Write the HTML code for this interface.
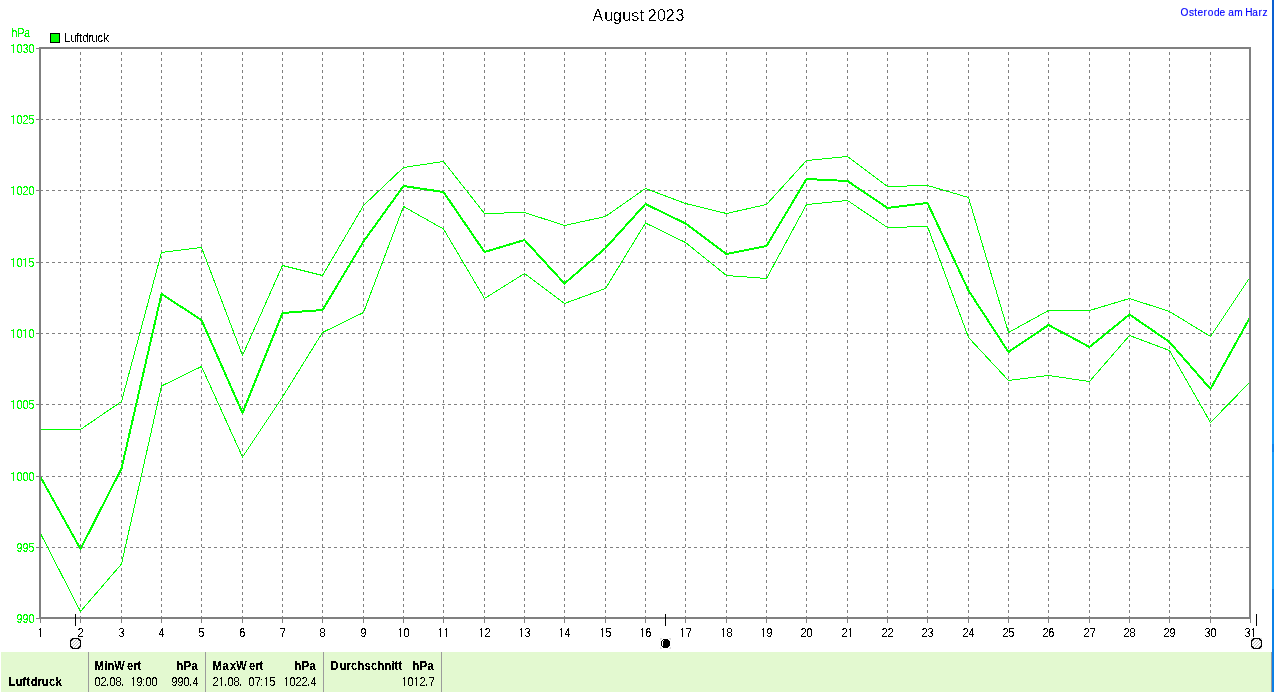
<!DOCTYPE html>
<html lang="de">
<head>
<meta charset="utf-8">
<title>Luftdruck August 2023 - Osterode am Harz</title>
<style>
html,body{margin:0;padding:0;background:#fff;}
body{width:1274px;height:692px;overflow:hidden;position:relative;font-family:"Liberation Sans",sans-serif;}
#chart{position:absolute;left:0;top:0;width:1274px;height:692px;display:block;}
#chart text{font-family:"Liberation Sans",sans-serif;font-size:13px;fill:#000;stroke:#000;stroke-width:0.2px;}
#chart .b{font-weight:bold;stroke-width:0.3px;}
#chart .g text{fill:#00ff00;stroke:#00ff00;}
#chart .site text{fill:#0000ff;stroke:#0000ff;stroke-width:0.15px;}
#chart .title text{stroke-width:0;}
</style>
</head>
<body>
<svg id="chart" width="1274" height="692" viewBox="0 0 1274 692">
<defs>
<filter id="crisp" x="0" y="0" width="1274" height="692" filterUnits="userSpaceOnUse" color-interpolation-filters="sRGB"><feComponentTransfer><feFuncA type="discrete" tableValues="0 0 0 1 1"/></feComponentTransfer></filter>
<filter id="crisp2" x="0" y="0" width="1274" height="692" filterUnits="userSpaceOnUse" color-interpolation-filters="sRGB"><feComponentTransfer><feFuncA type="discrete" tableValues="0 1"/></feComponentTransfer></filter>
<linearGradient id="bl" gradientUnits="userSpaceOnUse" x1="0" y1="0" x2="0" y2="589"><stop offset="0" stop-color="#0a5fcf"/><stop offset="0.2" stop-color="#0a69e1"/><stop offset="0.42" stop-color="#0a84f5"/><stop offset="0.68" stop-color="#199bfa"/><stop offset="1" stop-color="#1aa0fa"/></linearGradient>
</defs>

<g id="table-bg" shape-rendering="crispEdges">
<rect x="1" y="652" width="1271" height="40" fill="#e3f9d0"/>
<rect x="88" y="652" width="1" height="40" fill="#9c9c9c"/>
<rect x="205" y="652" width="1" height="40" fill="#9c9c9c"/>
<rect x="323" y="652" width="1" height="40" fill="#9c9c9c"/>
<rect x="441" y="652" width="1" height="40" fill="#9c9c9c"/>
<rect x="1271" y="652" width="1" height="40" fill="#9c9c9c"/>
</g>
<g id="edge" shape-rendering="crispEdges">
<rect x="1272" y="0" width="2" height="589" fill="url(#bl)"/>
<rect x="1272" y="589" width="2" height="103" fill="#0b80e6"/>
<rect x="1272" y="444" width="2" height="8" fill="#0e84ec"/>
</g>
<g id="grid" stroke="#808080" stroke-width="1" shape-rendering="crispEdges" fill="none" stroke-dasharray="3 3">
<line x1="80.5" y1="49" x2="80.5" y2="617" stroke-dashoffset="3"/>
<line x1="121.5" y1="49" x2="121.5" y2="617" stroke-dashoffset="3"/>
<line x1="161.5" y1="49" x2="161.5" y2="617" stroke-dashoffset="3"/>
<line x1="201.5" y1="49" x2="201.5" y2="617" stroke-dashoffset="3"/>
<line x1="242.5" y1="49" x2="242.5" y2="617" stroke-dashoffset="3"/>
<line x1="282.5" y1="49" x2="282.5" y2="617" stroke-dashoffset="3"/>
<line x1="322.5" y1="49" x2="322.5" y2="617" stroke-dashoffset="3"/>
<line x1="363.5" y1="49" x2="363.5" y2="617" stroke-dashoffset="3"/>
<line x1="403.5" y1="49" x2="403.5" y2="617" stroke-dashoffset="3"/>
<line x1="443.5" y1="49" x2="443.5" y2="617" stroke-dashoffset="3"/>
<line x1="484.5" y1="49" x2="484.5" y2="617" stroke-dashoffset="3"/>
<line x1="524.5" y1="49" x2="524.5" y2="617" stroke-dashoffset="3"/>
<line x1="564.5" y1="49" x2="564.5" y2="617" stroke-dashoffset="3"/>
<line x1="605.5" y1="49" x2="605.5" y2="617" stroke-dashoffset="3"/>
<line x1="645.5" y1="49" x2="645.5" y2="617" stroke-dashoffset="3"/>
<line x1="685.5" y1="49" x2="685.5" y2="617" stroke-dashoffset="3"/>
<line x1="726.5" y1="49" x2="726.5" y2="617" stroke-dashoffset="3"/>
<line x1="766.5" y1="49" x2="766.5" y2="617" stroke-dashoffset="3"/>
<line x1="806.5" y1="49" x2="806.5" y2="617" stroke-dashoffset="3"/>
<line x1="847.5" y1="49" x2="847.5" y2="617" stroke-dashoffset="3"/>
<line x1="887.5" y1="49" x2="887.5" y2="617" stroke-dashoffset="3"/>
<line x1="927.5" y1="49" x2="927.5" y2="617" stroke-dashoffset="3"/>
<line x1="968.5" y1="49" x2="968.5" y2="617" stroke-dashoffset="3"/>
<line x1="1008.5" y1="49" x2="1008.5" y2="617" stroke-dashoffset="3"/>
<line x1="1048.5" y1="49" x2="1048.5" y2="617" stroke-dashoffset="3"/>
<line x1="1089.5" y1="49" x2="1089.5" y2="617" stroke-dashoffset="3"/>
<line x1="1129.5" y1="49" x2="1129.5" y2="617" stroke-dashoffset="3"/>
<line x1="1169.5" y1="49" x2="1169.5" y2="617" stroke-dashoffset="3"/>
<line x1="1210.5" y1="49" x2="1210.5" y2="617" stroke-dashoffset="3"/>
<line x1="41" y1="547.5" x2="1249" y2="547.5" stroke-dashoffset="1"/>
<line x1="41" y1="476.5" x2="1249" y2="476.5" stroke-dashoffset="1"/>
<line x1="41" y1="404.5" x2="1249" y2="404.5" stroke-dashoffset="1"/>
<line x1="41" y1="333.5" x2="1249" y2="333.5" stroke-dashoffset="1"/>
<line x1="41" y1="262.5" x2="1249" y2="262.5" stroke-dashoffset="1"/>
<line x1="41" y1="190.5" x2="1249" y2="190.5" stroke-dashoffset="1"/>
<line x1="41" y1="119.5" x2="1249" y2="119.5" stroke-dashoffset="1"/>
</g>
<g id="series" stroke="#00ff00" fill="none" shape-rendering="crispEdges" stroke-linejoin="round" stroke-linecap="butt">
<polyline stroke-width="1" points="40.5,429.5 80.5,429.5 121.5,401.5 161.5,252.5 201.5,247.5 242.5,355.5 282.5,265.5 322.5,275.5 363.5,205.5 403.5,167.5 443.5,161.5 484.5,213.5 524.5,212.5 564.5,225.5 605.5,216.5 645.5,188.5 685.5,203.5 726.5,213.5 766.5,204.5 806.5,160.5 847.5,156.5 887.5,186.5 927.5,185.5 968.5,197.5 1008.5,332.5 1048.5,310.5 1089.5,310.5 1129.5,298.5 1169.5,311.5 1210.5,336.5 1250.5,276.5"/>
<polyline stroke-width="1" points="40.5,533.5 80.5,611.5 121.5,564.0 161.5,386.0 201.5,366.5 242.5,457.0 282.5,397.0 322.5,332.5 363.5,312.5 403.5,206.5 443.5,229.0 484.5,298.5 524.5,273.5 564.5,303.5 605.5,288.5 645.5,223.0 685.5,242.5 726.5,275.5 766.5,278.5 806.5,204.5 847.5,200.5 887.5,227.5 927.5,226.5 968.5,337.5 1008.5,380.5 1048.5,375.5 1089.5,381.5 1129.5,335.5 1169.5,350.5 1210.5,422.5 1250.5,381.5"/>
<polyline stroke-width="2" points="40.5,477.0 80.5,549.0 121.5,468.5 161.5,294.0 201.5,320.0 242.5,413.0 282.5,313.0 322.5,310.0 363.5,241.5 403.5,186.0 443.5,192.0 484.5,252.0 524.5,240.0 564.5,283.5 605.5,248.0 645.5,204.0 685.5,223.5 726.5,254.0 766.5,246.0 806.5,179.0 847.5,181.0 887.5,208.0 927.5,203.0 968.5,290.5 1008.5,352.0 1048.5,325.0 1089.5,347.0 1129.5,314.5 1169.5,342.0 1210.5,389.0 1250.5,316.5"/>
</g>
<g id="frame" fill="#808080" shape-rendering="crispEdges">
<rect x="39" y="47" width="1212" height="2"/>
<rect x="39" y="617" width="1212" height="2"/>
<rect x="39" y="47" width="2" height="572"/>
<rect x="1249" y="47" width="2" height="572"/>
<rect x="40" y="619" width="1" height="4"/>
<rect x="80" y="619" width="1" height="4"/>
<rect x="121" y="619" width="1" height="4"/>
<rect x="161" y="619" width="1" height="4"/>
<rect x="201" y="619" width="1" height="4"/>
<rect x="242" y="619" width="1" height="4"/>
<rect x="282" y="619" width="1" height="4"/>
<rect x="322" y="619" width="1" height="4"/>
<rect x="363" y="619" width="1" height="4"/>
<rect x="403" y="619" width="1" height="4"/>
<rect x="443" y="619" width="1" height="4"/>
<rect x="484" y="619" width="1" height="4"/>
<rect x="524" y="619" width="1" height="4"/>
<rect x="564" y="619" width="1" height="4"/>
<rect x="605" y="619" width="1" height="4"/>
<rect x="645" y="619" width="1" height="4"/>
<rect x="685" y="619" width="1" height="4"/>
<rect x="726" y="619" width="1" height="4"/>
<rect x="766" y="619" width="1" height="4"/>
<rect x="806" y="619" width="1" height="4"/>
<rect x="847" y="619" width="1" height="4"/>
<rect x="887" y="619" width="1" height="4"/>
<rect x="927" y="619" width="1" height="4"/>
<rect x="968" y="619" width="1" height="4"/>
<rect x="1008" y="619" width="1" height="4"/>
<rect x="1048" y="619" width="1" height="4"/>
<rect x="1089" y="619" width="1" height="4"/>
<rect x="1129" y="619" width="1" height="4"/>
<rect x="1169" y="619" width="1" height="4"/>
<rect x="1210" y="619" width="1" height="4"/>
<rect x="1250" y="619" width="1" height="4"/>
<rect x="36" y="618" width="3" height="1"/>
<rect x="36" y="547" width="3" height="1"/>
<rect x="36" y="476" width="3" height="1"/>
<rect x="36" y="404" width="3" height="1"/>
<rect x="36" y="333" width="3" height="1"/>
<rect x="36" y="262" width="3" height="1"/>
<rect x="36" y="190" width="3" height="1"/>
<rect x="36" y="119" width="3" height="1"/>
<rect x="36" y="48" width="3" height="1"/>
</g>
<rect x="50.5" y="33.5" width="9" height="9" fill="#00ff00" stroke="#000" stroke-width="1" shape-rendering="crispEdges"/>
<g id="moon-ticks" fill="#000" shape-rendering="crispEdges">
<rect x="75" y="614" width="1" height="12"/>
<rect x="665" y="614" width="1" height="12"/>
<rect x="1256" y="614" width="1" height="12"/>
</g>
<g class="moon" transform="translate(70,638)" shape-rendering="crispEdges"><title>Vollmond</title>
<rect x="0" y="0" width="2" height="1" fill="#dcdcdc"/>
<rect x="2" y="0" width="7" height="1" fill="#000"/>
<rect x="9" y="0" width="2" height="1" fill="#dcdcdc"/>
<rect x="0" y="1" width="1" height="1" fill="#dcdcdc"/>
<rect x="1" y="1" width="2" height="1" fill="#000"/>
<rect x="3" y="1" width="1" height="1" fill="#bcbcbc"/>
<rect x="6" y="1" width="1" height="1" fill="#bcbcbc"/>
<rect x="8" y="1" width="2" height="1" fill="#000"/>
<rect x="10" y="1" width="1" height="1" fill="#dcdcdc"/>
<rect x="0" y="2" width="2" height="1" fill="#000"/>
<rect x="2" y="2" width="1" height="1" fill="#bcbcbc"/>
<rect x="5" y="2" width="1" height="1" fill="#bcbcbc"/>
<rect x="8" y="2" width="1" height="1" fill="#bcbcbc"/>
<rect x="9" y="2" width="2" height="1" fill="#000"/>
<rect x="0" y="3" width="1" height="1" fill="#000"/>
<rect x="1" y="3" width="1" height="1" fill="#bcbcbc"/>
<rect x="4" y="3" width="1" height="1" fill="#bcbcbc"/>
<rect x="7" y="3" width="1" height="1" fill="#bcbcbc"/>
<rect x="10" y="3" width="1" height="1" fill="#000"/>
<rect x="0" y="4" width="1" height="1" fill="#000"/>
<rect x="3" y="4" width="1" height="1" fill="#bcbcbc"/>
<rect x="6" y="4" width="1" height="1" fill="#bcbcbc"/>
<rect x="9" y="4" width="1" height="1" fill="#bcbcbc"/>
<rect x="10" y="4" width="1" height="1" fill="#000"/>
<rect x="0" y="5" width="1" height="1" fill="#000"/>
<rect x="2" y="5" width="1" height="1" fill="#bcbcbc"/>
<rect x="5" y="5" width="1" height="1" fill="#bcbcbc"/>
<rect x="8" y="5" width="1" height="1" fill="#bcbcbc"/>
<rect x="10" y="5" width="1" height="1" fill="#000"/>
<rect x="0" y="6" width="1" height="1" fill="#000"/>
<rect x="1" y="6" width="1" height="1" fill="#bcbcbc"/>
<rect x="4" y="6" width="1" height="1" fill="#bcbcbc"/>
<rect x="7" y="6" width="1" height="1" fill="#bcbcbc"/>
<rect x="10" y="6" width="1" height="1" fill="#000"/>
<rect x="0" y="7" width="1" height="1" fill="#000"/>
<rect x="3" y="7" width="1" height="1" fill="#bcbcbc"/>
<rect x="6" y="7" width="1" height="1" fill="#bcbcbc"/>
<rect x="9" y="7" width="1" height="1" fill="#bcbcbc"/>
<rect x="10" y="7" width="1" height="1" fill="#000"/>
<rect x="0" y="8" width="2" height="1" fill="#000"/>
<rect x="2" y="8" width="1" height="1" fill="#bcbcbc"/>
<rect x="5" y="8" width="1" height="1" fill="#bcbcbc"/>
<rect x="8" y="8" width="1" height="1" fill="#bcbcbc"/>
<rect x="9" y="8" width="2" height="1" fill="#000"/>
<rect x="0" y="9" width="1" height="1" fill="#dcdcdc"/>
<rect x="1" y="9" width="2" height="1" fill="#000"/>
<rect x="4" y="9" width="1" height="1" fill="#bcbcbc"/>
<rect x="7" y="9" width="1" height="1" fill="#bcbcbc"/>
<rect x="8" y="9" width="2" height="1" fill="#000"/>
<rect x="10" y="9" width="1" height="1" fill="#dcdcdc"/>
<rect x="0" y="10" width="2" height="1" fill="#dcdcdc"/>
<rect x="2" y="10" width="7" height="1" fill="#000"/>
<rect x="9" y="10" width="2" height="1" fill="#dcdcdc"/>
</g>
<g class="moon" transform="translate(660,638)" shape-rendering="crispEdges"><title>Neumond</title>
<rect x="0" y="0" width="2" height="1" fill="#dcdcdc"/>
<rect x="9" y="0" width="2" height="1" fill="#dcdcdc"/>
<rect x="0" y="1" width="1" height="1" fill="#dcdcdc"/>
<rect x="3" y="1" width="5" height="1" fill="#000"/>
<rect x="10" y="1" width="1" height="1" fill="#dcdcdc"/>
<rect x="2" y="2" width="1" height="1" fill="#000"/>
<rect x="3" y="2" width="1" height="1" fill="#fff"/>
<rect x="4" y="2" width="5" height="1" fill="#000"/>
<rect x="1" y="3" width="1" height="1" fill="#000"/>
<rect x="2" y="3" width="1" height="1" fill="#fff"/>
<rect x="3" y="3" width="7" height="1" fill="#000"/>
<rect x="1" y="4" width="1" height="1" fill="#000"/>
<rect x="2" y="4" width="1" height="1" fill="#fff"/>
<rect x="3" y="4" width="7" height="1" fill="#000"/>
<rect x="1" y="5" width="1" height="1" fill="#000"/>
<rect x="2" y="5" width="1" height="1" fill="#fff"/>
<rect x="3" y="5" width="7" height="1" fill="#000"/>
<rect x="1" y="6" width="1" height="1" fill="#000"/>
<rect x="2" y="6" width="1" height="1" fill="#fff"/>
<rect x="3" y="6" width="7" height="1" fill="#000"/>
<rect x="1" y="7" width="1" height="1" fill="#000"/>
<rect x="2" y="7" width="1" height="1" fill="#fff"/>
<rect x="3" y="7" width="7" height="1" fill="#000"/>
<rect x="2" y="8" width="7" height="1" fill="#000"/>
<rect x="0" y="9" width="1" height="1" fill="#dcdcdc"/>
<rect x="3" y="9" width="5" height="1" fill="#000"/>
<rect x="10" y="9" width="1" height="1" fill="#dcdcdc"/>
<rect x="0" y="10" width="2" height="1" fill="#dcdcdc"/>
<rect x="9" y="10" width="2" height="1" fill="#dcdcdc"/>
</g>
<g class="moon" transform="translate(1251,638)" shape-rendering="crispEdges"><title>Vollmond</title>
<rect x="0" y="0" width="2" height="1" fill="#dcdcdc"/>
<rect x="2" y="0" width="7" height="1" fill="#000"/>
<rect x="9" y="0" width="2" height="1" fill="#dcdcdc"/>
<rect x="0" y="1" width="1" height="1" fill="#dcdcdc"/>
<rect x="1" y="1" width="2" height="1" fill="#000"/>
<rect x="3" y="1" width="1" height="1" fill="#bcbcbc"/>
<rect x="6" y="1" width="1" height="1" fill="#bcbcbc"/>
<rect x="8" y="1" width="2" height="1" fill="#000"/>
<rect x="10" y="1" width="1" height="1" fill="#dcdcdc"/>
<rect x="0" y="2" width="2" height="1" fill="#000"/>
<rect x="2" y="2" width="1" height="1" fill="#bcbcbc"/>
<rect x="5" y="2" width="1" height="1" fill="#bcbcbc"/>
<rect x="8" y="2" width="1" height="1" fill="#bcbcbc"/>
<rect x="9" y="2" width="2" height="1" fill="#000"/>
<rect x="0" y="3" width="1" height="1" fill="#000"/>
<rect x="1" y="3" width="1" height="1" fill="#bcbcbc"/>
<rect x="4" y="3" width="1" height="1" fill="#bcbcbc"/>
<rect x="7" y="3" width="1" height="1" fill="#bcbcbc"/>
<rect x="10" y="3" width="1" height="1" fill="#000"/>
<rect x="0" y="4" width="1" height="1" fill="#000"/>
<rect x="3" y="4" width="1" height="1" fill="#bcbcbc"/>
<rect x="6" y="4" width="1" height="1" fill="#bcbcbc"/>
<rect x="9" y="4" width="1" height="1" fill="#bcbcbc"/>
<rect x="10" y="4" width="1" height="1" fill="#000"/>
<rect x="0" y="5" width="1" height="1" fill="#000"/>
<rect x="2" y="5" width="1" height="1" fill="#bcbcbc"/>
<rect x="5" y="5" width="1" height="1" fill="#bcbcbc"/>
<rect x="8" y="5" width="1" height="1" fill="#bcbcbc"/>
<rect x="10" y="5" width="1" height="1" fill="#000"/>
<rect x="0" y="6" width="1" height="1" fill="#000"/>
<rect x="1" y="6" width="1" height="1" fill="#bcbcbc"/>
<rect x="4" y="6" width="1" height="1" fill="#bcbcbc"/>
<rect x="7" y="6" width="1" height="1" fill="#bcbcbc"/>
<rect x="10" y="6" width="1" height="1" fill="#000"/>
<rect x="0" y="7" width="1" height="1" fill="#000"/>
<rect x="3" y="7" width="1" height="1" fill="#bcbcbc"/>
<rect x="6" y="7" width="1" height="1" fill="#bcbcbc"/>
<rect x="9" y="7" width="1" height="1" fill="#bcbcbc"/>
<rect x="10" y="7" width="1" height="1" fill="#000"/>
<rect x="0" y="8" width="2" height="1" fill="#000"/>
<rect x="2" y="8" width="1" height="1" fill="#bcbcbc"/>
<rect x="5" y="8" width="1" height="1" fill="#bcbcbc"/>
<rect x="8" y="8" width="1" height="1" fill="#bcbcbc"/>
<rect x="9" y="8" width="2" height="1" fill="#000"/>
<rect x="0" y="9" width="1" height="1" fill="#dcdcdc"/>
<rect x="1" y="9" width="2" height="1" fill="#000"/>
<rect x="4" y="9" width="1" height="1" fill="#bcbcbc"/>
<rect x="7" y="9" width="1" height="1" fill="#bcbcbc"/>
<rect x="8" y="9" width="2" height="1" fill="#000"/>
<rect x="10" y="9" width="1" height="1" fill="#dcdcdc"/>
<rect x="0" y="10" width="2" height="1" fill="#dcdcdc"/>
<rect x="2" y="10" width="7" height="1" fill="#000"/>
<rect x="9" y="10" width="2" height="1" fill="#dcdcdc"/>
</g>
<clipPath id="nofoot" clipPathUnits="userSpaceOnUse"><path clip-rule="evenodd" d="M0 0H1274V692H0ZM11 52h2v1h-2zM14 52h2v1h-2zM11 123h2v1h-2zM14 123h2v1h-2zM11 194h2v1h-2zM14 194h2v1h-2zM11 266h2v1h-2zM14 266h2v1h-2zM23 266h2v1h-2zM26 266h2v1h-2zM11 337h2v1h-2zM14 337h2v1h-2zM23 337h2v1h-2zM26 337h2v1h-2zM11 408h2v1h-2zM14 408h2v1h-2zM11 480h2v1h-2zM14 480h2v1h-2zM38 636h2v1h-2zM41 636h2v1h-2zM398 636h2v1h-2zM401 636h2v1h-2zM438 636h2v1h-2zM441 636h2v1h-2zM444 636h2v1h-2zM447 636h2v1h-2zM479 636h2v1h-2zM482 636h2v1h-2zM519 636h2v1h-2zM522 636h2v1h-2zM559 636h2v1h-2zM562 636h2v1h-2zM600 636h2v1h-2zM603 636h2v1h-2zM640 636h2v1h-2zM643 636h2v1h-2zM680 636h2v1h-2zM683 636h2v1h-2zM721 636h2v1h-2zM724 636h2v1h-2zM761 636h2v1h-2zM764 636h2v1h-2zM848 636h2v1h-2zM851 636h2v1h-2zM1251 636h2v1h-2zM1254 636h2v1h-2zM131 685h2v1h-2zM134 685h2v1h-2zM219 685h2v1h-2zM222 685h2v1h-2zM264 685h2v1h-2zM267 685h2v1h-2zM284 685h2v1h-2zM287 685h2v1h-2zM402 685h2v1h-2zM405 685h2v1h-2zM414 685h2v1h-2zM417 685h2v1h-2z"/></clipPath>
<g id="labels" filter="url(#crisp)" clip-path="url(#nofoot)">
<text transform="translate(0,42) scale(0.85,1)" x="75.36 83.01 89.48 93.01 97.13 103.89 107.72 114.78 121.84" y="0" style="font-size:13px" xml:space="preserve">Luftdruck</text>
<g class="g">
<text transform="translate(0,37) scale(0.85,1)" x="13.31 20.36 28.31" y="0" style="font-size:13px" xml:space="preserve">hPa</text>
<text transform="translate(0,53) scale(0.85,1)" x="12.13 19.48 26.54 33.60" y="0" style="font-size:13px" xml:space="preserve">1030</text>
<text transform="translate(0,124) scale(0.85,1)" x="12.13 19.48 26.54 33.31" y="0" style="font-size:13px" xml:space="preserve">1025</text>
<text transform="translate(0,195) scale(0.85,1)" x="12.13 19.48 26.54 33.60" y="0" style="font-size:13px" xml:space="preserve">1020</text>
<text transform="translate(0,267) scale(0.85,1)" x="12.13 19.48 26.25 33.31" y="0" style="font-size:13px" xml:space="preserve">1015</text>
<text transform="translate(0,338) scale(0.85,1)" x="12.13 19.48 26.25 33.60" y="0" style="font-size:13px" xml:space="preserve">1010</text>
<text transform="translate(0,409) scale(0.85,1)" x="12.13 19.48 26.54 33.31" y="0" style="font-size:13px" xml:space="preserve">1005</text>
<text transform="translate(0,481) scale(0.85,1)" x="12.13 19.48 26.54 33.60" y="0" style="font-size:13px" xml:space="preserve">1000</text>
<text transform="translate(0,552) scale(0.85,1)" x="19.48 26.54 33.31" y="0" style="font-size:13px" xml:space="preserve">995</text>
<text transform="translate(0,623) scale(0.85,1)" x="19.48 26.54 33.60" y="0" style="font-size:13px" xml:space="preserve">990</text>
</g>
<g class="x">
<text transform="translate(0,637) scale(0.85,1)" x="43.89" y="0" style="font-size:13px" xml:space="preserve">1</text>
<text transform="translate(0,637) scale(0.85,1)" x="91.25" y="0" style="font-size:13px" xml:space="preserve">2</text>
<text transform="translate(0,637) scale(0.85,1)" x="139.48" y="0" style="font-size:13px" xml:space="preserve">3</text>
<text transform="translate(0,637) scale(0.85,1)" x="186.54" y="0" style="font-size:13px" xml:space="preserve">4</text>
<text transform="translate(0,637) scale(0.85,1)" x="233.31" y="0" style="font-size:13px" xml:space="preserve">5</text>
<text transform="translate(0,637) scale(0.85,1)" x="281.54" y="0" style="font-size:13px" xml:space="preserve">6</text>
<text transform="translate(0,637) scale(0.85,1)" x="329.19" y="0" style="font-size:13px" xml:space="preserve">7</text>
<text transform="translate(0,637) scale(0.85,1)" x="375.95" y="0" style="font-size:13px" xml:space="preserve">8</text>
<text transform="translate(0,637) scale(0.85,1)" x="424.19" y="0" style="font-size:13px" xml:space="preserve">9</text>
<text transform="translate(0,637) scale(0.85,1)" x="467.42 474.78" y="0" style="font-size:13px" xml:space="preserve">10</text>
<text transform="translate(0,637) scale(0.85,1)" x="514.48 521.54" y="0" style="font-size:13px" xml:space="preserve">11</text>
<text transform="translate(0,637) scale(0.85,1)" x="562.72 570.07" y="0" style="font-size:13px" xml:space="preserve">12</text>
<text transform="translate(0,637) scale(0.85,1)" x="609.78 617.13" y="0" style="font-size:13px" xml:space="preserve">13</text>
<text transform="translate(0,637) scale(0.85,1)" x="656.84 664.19" y="0" style="font-size:13px" xml:space="preserve">14</text>
<text transform="translate(0,637) scale(0.85,1)" x="705.07 712.13" y="0" style="font-size:13px" xml:space="preserve">15</text>
<text transform="translate(0,637) scale(0.85,1)" x="752.13 759.19" y="0" style="font-size:13px" xml:space="preserve">16</text>
<text transform="translate(0,637) scale(0.85,1)" x="799.19 806.84" y="0" style="font-size:13px" xml:space="preserve">17</text>
<text transform="translate(0,637) scale(0.85,1)" x="847.42 854.78" y="0" style="font-size:13px" xml:space="preserve">18</text>
<text transform="translate(0,637) scale(0.85,1)" x="894.48 901.84" y="0" style="font-size:13px" xml:space="preserve">19</text>
<text transform="translate(0,637) scale(0.85,1)" x="941.84 948.89" y="0" style="font-size:13px" xml:space="preserve">20</text>
<text transform="translate(0,637) scale(0.85,1)" x="990.07 996.84" y="0" style="font-size:13px" xml:space="preserve">21</text>
<text transform="translate(0,637) scale(0.85,1)" x="1037.13 1044.19" y="0" style="font-size:13px" xml:space="preserve">22</text>
<text transform="translate(0,637) scale(0.85,1)" x="1084.19 1091.25" y="0" style="font-size:13px" xml:space="preserve">23</text>
<text transform="translate(0,637) scale(0.85,1)" x="1132.42 1139.48" y="0" style="font-size:13px" xml:space="preserve">24</text>
<text transform="translate(0,637) scale(0.85,1)" x="1179.48 1186.25" y="0" style="font-size:13px" xml:space="preserve">25</text>
<text transform="translate(0,637) scale(0.85,1)" x="1226.54 1233.31" y="0" style="font-size:13px" xml:space="preserve">26</text>
<text transform="translate(0,637) scale(0.85,1)" x="1274.78 1282.13" y="0" style="font-size:13px" xml:space="preserve">27</text>
<text transform="translate(0,637) scale(0.85,1)" x="1321.84 1328.89" y="0" style="font-size:13px" xml:space="preserve">28</text>
<text transform="translate(0,637) scale(0.85,1)" x="1368.89 1375.95" y="0" style="font-size:13px" xml:space="preserve">29</text>
<text transform="translate(0,637) scale(0.85,1)" x="1417.13 1424.19" y="0" style="font-size:13px" xml:space="preserve">30</text>
<text transform="translate(0,637) scale(0.85,1)" x="1464.19 1470.95" y="0" style="font-size:13px" xml:space="preserve">31</text>
</g>
<g class="tbl">
<text class="b" transform="translate(0,686) scale(0.85,1)" x="10.07 18.60 26.25 30.95 36.25 44.19 49.19 57.72 65.66" y="0" style="font-size:13px" xml:space="preserve">Luftdruck</text>
<text class="b" transform="translate(0,670) scale(0.85,1)" x="111.25 123.01 126.54 134.48 149.48 157.13 161.54" y="0" style="font-size:13px" xml:space="preserve">MinWert</text>
<text class="b" transform="translate(0,670) scale(0.85,1)" x="207.72 216.25 225.36" y="0" style="font-size:13px" xml:space="preserve">hPa</text>
<text transform="translate(0,686) scale(0.85,1)" x="111.25 118.31 124.78 128.89 135.95 142.42 145.95 145.95 153.31 160.66 167.13 171.25 178.31" y="0" style="font-size:13px" xml:space="preserve">02.08.  19:00</text>
<text transform="translate(0,686) scale(0.85,1)" x="201.84 208.89 215.95 222.42 226.54" y="0" style="font-size:13px" xml:space="preserve">990.4</text>
<text class="b" transform="translate(0,670) scale(0.85,1)" x="250.07 261.84 270.66 278.01 293.01 300.66 305.07" y="0" style="font-size:13px" xml:space="preserve">MaxWert</text>
<text class="b" transform="translate(0,670) scale(0.85,1)" x="346.54 355.07 364.19" y="0" style="font-size:13px" xml:space="preserve">hPa</text>
<text transform="translate(0,686) scale(0.85,1)" x="250.07 256.84 263.60 267.72 274.78 281.25 284.78 284.78 292.42 299.78 305.95 309.78 316.84" y="0" style="font-size:13px" xml:space="preserve">21.08.  07:15</text>
<text transform="translate(0,686) scale(0.85,1)" x="333.31 340.66 347.72 354.78 361.25 365.36" y="0" style="font-size:13px" xml:space="preserve">1022.4</text>
<text class="b" transform="translate(0,670) scale(0.85,1)" x="388.89 399.78 407.72 413.01 420.66 428.89 436.54 444.19 452.42 460.66 463.89 468.60" y="0" style="font-size:13px" xml:space="preserve">Durchschnitt</text>
<text class="b" transform="translate(0,670) scale(0.85,1)" x="485.36 493.89 503.01" y="0" style="font-size:13px" xml:space="preserve">hPa</text>
<text transform="translate(0,686) scale(0.85,1)" x="472.13 479.48 486.25 493.60 500.07 504.48" y="0" style="font-size:13px" xml:space="preserve">1012.7</text>
</g>
</g>
<g class="title" filter="url(#crisp)">
<text transform="translate(0,21) scale(0.92,1)" x="644.09 656.86 666.37 676.42 686.21 695.17 698.43 704.14 714.20 723.71 734.30" y="0" style="font-size:17.4px" xml:space="preserve">August 2023</text>
</g>
<g class="site">
<text transform="translate(0,16) scale(0.92,1)" x="1283.22 1292.46 1298.16 1301.70 1308.22 1312.84 1319.63 1325.61 1328.87 1335.12 1341.64 1344.90 1353.60 1361.21 1368.00 1372.35" y="0" style="font-size:11px" xml:space="preserve">Osterode am Harz</text>
</g>
</svg>
</body>
</html>
